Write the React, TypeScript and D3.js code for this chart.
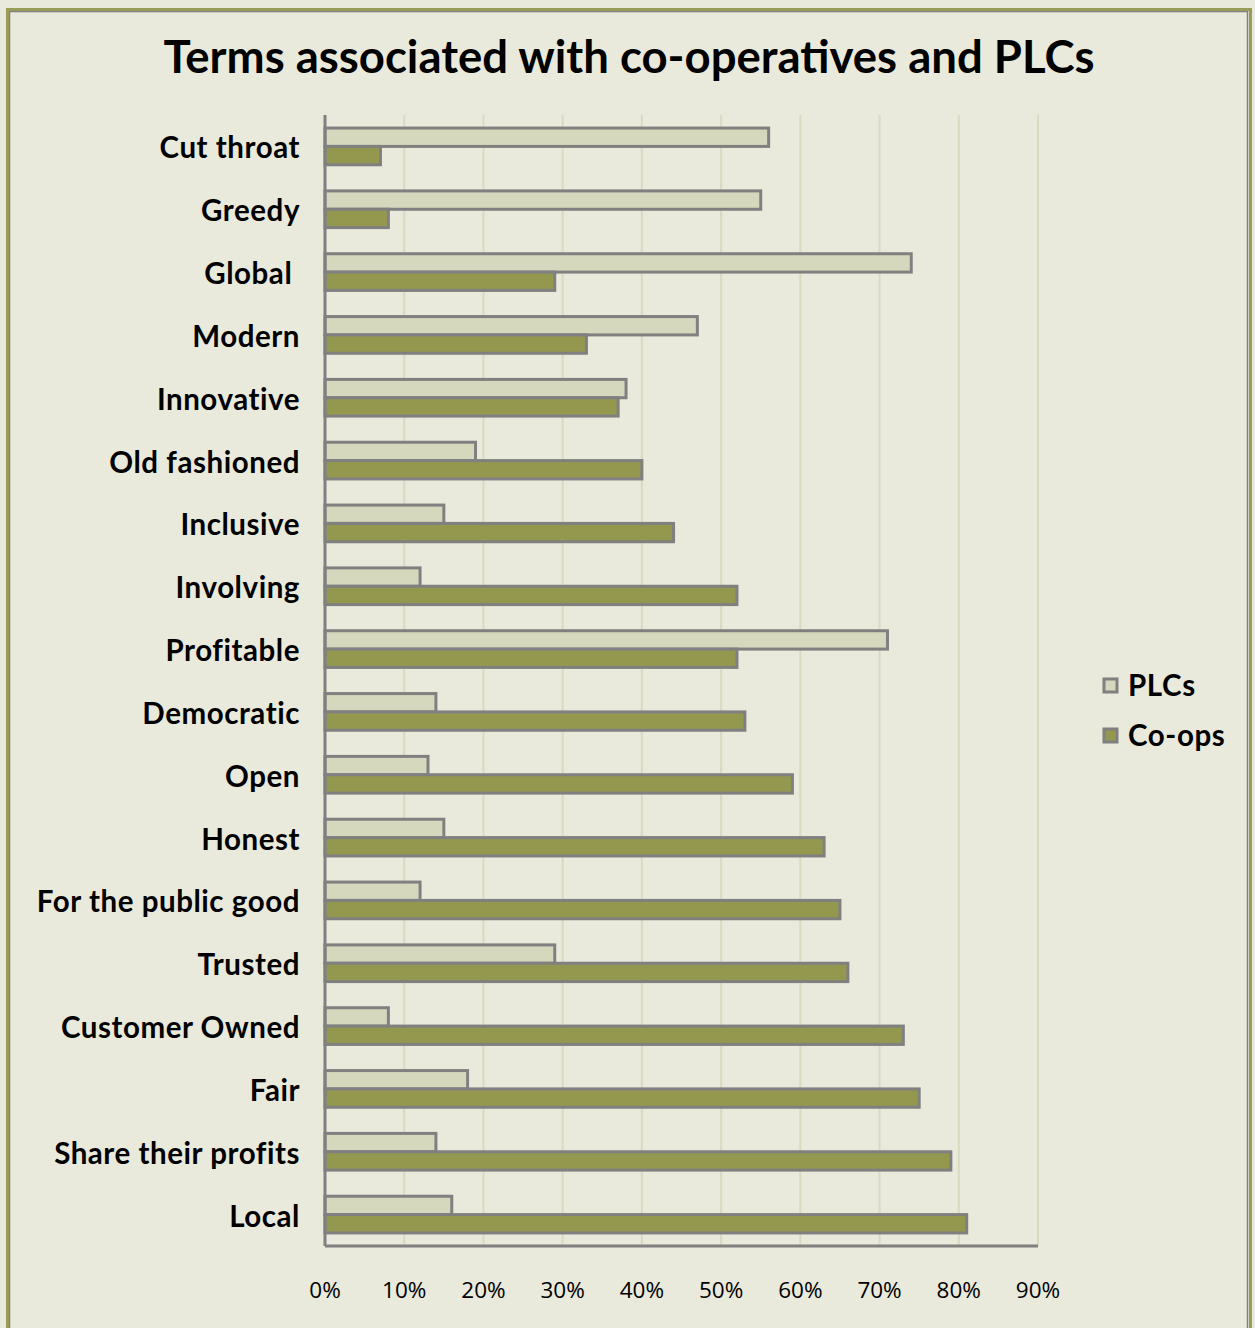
import React from "react";
import * as d3 from "d3";

const categories = [
  "Cut throat", "Greedy", "Global ", "Modern", "Innovative", "Old fashioned",
  "Inclusive", "Involving", "Profitable", "Democratic", "Open", "Honest",
  "For the public good", "Trusted", "Customer Owned", "Fair",
  "Share their profits", "Local",
];
const plcValues = [56, 55, 74, 47, 38, 19, 15, 12, 71, 14, 13, 15, 12, 29, 8, 18, 14, 16];
const coopValues = [7, 8, 29, 33, 37, 40, 44, 52, 52, 53, 59, 63, 65, 66, 73, 75, 79, 81];
const seriesNames = ["PLCs", "Co-ops"];
const xTicks = [0, 10, 20, 30, 40, 50, 60, 70, 80, 90];
const title = "Terms associated with co-operatives and PLCs";

const W = 1255;
const H = 1328;
const BG = "#E9E9DC";
const PLC_FILL = "#D5D8BD";
const COOP_FILL = "#94984F";
const STROKE = "#808080";
const GRID = "#D9DAC0";
const FONT = "Lato, 'Open Sans', sans-serif";

export default function App() {
  const left = 325, right = 1038, top = 115, bottom = 1246;
  const x = d3.scaleLinear().domain([0, 90]).range([left, right]);
  const y = d3.scaleBand<string>().domain(categories).range([top, bottom]);
  const bw = y.bandwidth();
  const barH = bw * 0.292;
  const colors = [PLC_FILL, COOP_FILL];
  const series = [plcValues, coopValues];

  return (
    <div style={{ position: "absolute", left: 0, top: 0 }}>
      <svg width={W} height={H} style={{ display: "block" }}>
        <rect x={0} y={0} width={W} height={H} fill={BG} />
        <rect x={9.5} y={11.5} width={1238} height={1330} fill="none" stroke={STROKE} strokeWidth={1.5} />
        <rect x={7.5} y={9.5} width={1243} height={1334} fill="none" stroke="#9A9D58" strokeWidth={3} />
        <text x={629} y={73} textAnchor="middle" fontFamily={FONT} fontWeight="bold" fontSize={45.5} fill="#000">
          {title}
        </text>
        {xTicks.slice(1).map((t) => (
          <line key={t} x1={x(t)} x2={x(t)} y1={top} y2={bottom} stroke={GRID} strokeWidth={2} />
        ))}
        {categories.map((c, i) => {
          const cy = (y(c) as number) + bw / 2;
          return (
            <g key={c}>
              {series.map((vals, s) => (
                <rect
                  key={s}
                  x={x(0)}
                  y={cy - barH + s * barH}
                  width={x(vals[i]) - x(0)}
                  height={barH}
                  fill={colors[s]}
                  stroke={STROKE}
                  strokeWidth={3}
                />
              ))}
              <text
                x={300}
                y={cy + 12}
                textAnchor="end"
                fontFamily={FONT}
                fontWeight="bold"
                fontSize={29.5}
                letterSpacing={0.55}
                fill="#000"
                style={{ whiteSpace: "pre" }}
              >
                {c}
              </text>
            </g>
          );
        })}
        <line x1={left} x2={left} y1={top} y2={bottom} stroke={STROKE} strokeWidth={3} />
        <line x1={left} x2={right} y1={bottom} y2={bottom} stroke={STROKE} strokeWidth={3} />
        {xTicks.map((t) => (
          <text key={t} x={x(t)} y={1298} textAnchor="middle" fontFamily="'Open Sans', sans-serif" fontSize={22.5} fill="#000">
            {t + "%"}
          </text>
        ))}
        {seriesNames.map((n, s) => (
          <g key={n}>
            <rect x={1104} y={679 + s * 50} width={13} height={13} fill={colors[s]} stroke={STROKE} strokeWidth={3} />
            <text x={1128} y={696 + s * 50} fontFamily={FONT} fontWeight="bold" fontSize={29.5} letterSpacing={0.6} fill="#000">
              {n}
            </text>
          </g>
        ))}
      </svg>
    </div>
  );
}
